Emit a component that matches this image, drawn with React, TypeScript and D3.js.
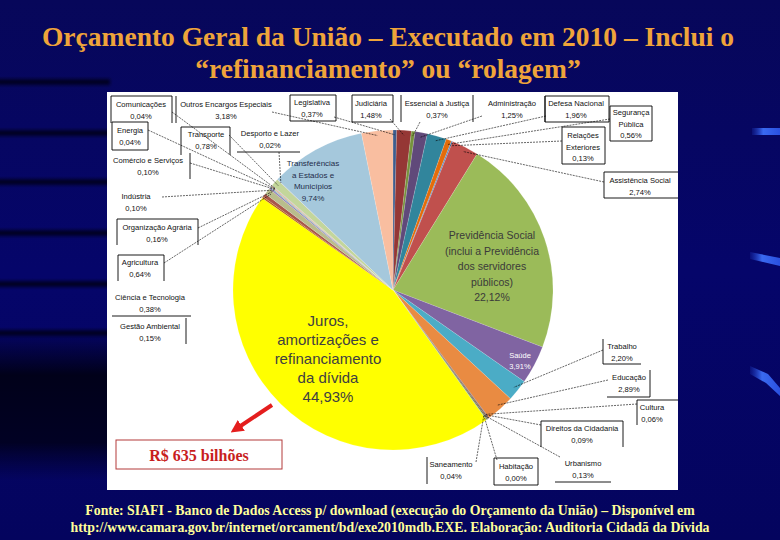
import * as d3 from 'd3';

// slice order as drawn, clockwise from 12 o'clock
const names = [
  'Legislativa', 'Judiciária', 'Essencial à Justiça', 'Administração', 'Defesa Nacional',
  'Segurança Pública', 'Relações Exteriores', 'Assistência Social', 'Previdência Social',
  'Saúde', 'Trabalho', 'Educação', 'Cultura', 'Direitos da Cidadania', 'Urbanismo',
  'Habitação', 'Saneamento', 'Juros', 'Gestão Ambiental', 'Ciência e Tecnologia',
  'Agricultura', 'Organização Agrária', 'Indústria', 'Comércio e Serviços', 'Energia',
  'Comunicações', 'Transporte', 'Desporto e Lazer', 'Transferências', 'Outros Encargos Especiais',
];
const values = [
  0.37, 1.48, 0.37, 1.25, 1.96,
  0.56, 0.13, 2.74, 22.12,
  3.91, 2.2, 2.89, 0.06, 0.09, 0.13,
  0.0, 0.04, 44.93, 0.15, 0.38,
  0.64, 0.16, 0.1, 0.1, 0.04,
  0.04, 0.78, 0.02, 9.74, 3.18,
];

const titleLines = [
  'Orçamento Geral da União – Executado em 2010 – Inclui o',
  '“refinanciamento” ou “rolagem”',
];
const footerLines = [
  'Fonte: SIAFI - Banco de Dados Access p/ download (execução do Orçamento da União) – Disponível em',
  'http://www.camara.gov.br/internet/orcament/bd/exe2010mdb.EXE. Elaboração: Auditoria Cidadã da Dívida',
];
const totalLabel = 'R$ 635 bilhões';

const colors: Record<string, string> = {
  'Legislativa': '#3E5C8C', 'Judiciária': '#953735', 'Essencial à Justiça': '#76923C',
  'Administração': '#60497A', 'Defesa Nacional': '#31859C', 'Segurança Pública': '#E46C0A',
  'Relações Exteriores': '#4F81BD', 'Assistência Social': '#C0504D', 'Previdência Social': '#9BBB59',
  'Saúde': '#8064A2', 'Trabalho': '#4BACC6', 'Educação': '#E98B42', 'Cultura': '#2C4D75',
  'Direitos da Cidadania': '#772C2A', 'Urbanismo': '#5F7530', 'Habitação': '#4D3B62',
  'Saneamento': '#276A7C', 'Juros': '#FFFF00', 'Gestão Ambiental': '#B65708',
  'Ciência e Tecnologia': '#A9574A', 'Agricultura': '#B9BD8C', 'Organização Agrária': '#9983B5',
  'Indústria': '#6FBDD1', 'Comércio e Serviços': '#F9AB6B', 'Energia': '#7F9DC9',
  'Comunicações': '#D88F8D', 'Transporte': '#C3D69B', 'Desporto e Lazer': '#B3A2C7',
  'Transferências': '#A5C8DC', 'Outros Encargos Especiais': '#F9BEA0',
};

type Box = { lines?: string[]; x: number; y: number; box?: [number, number, number, number]; sides?: string; anchor?: [number, number] };

// callout label layout
const callouts: Record<string, Box> = {
  'Comunicações': { x: 141, y: 107, box: [111, 96, 172, 123], sides: 'ltr', anchor: [172, 112] },
  'Outros Encargos Especiais': { x: 226, y: 107, box: [176, 96, 276, 123], sides: 'l', anchor: [272, 112] },
  'Legislativa': { x: 312, y: 105, box: [290, 95, 336, 121], sides: 'ltrb', anchor: [334, 117] },
  'Judiciária': { x: 371, y: 106, box: [352, 95, 393, 122], sides: 'ltrb', anchor: [390, 119] },
  'Essencial à Justiça': { x: 437, y: 106, box: [401, 95, 473, 122], sides: 'lr', anchor: [420, 122] },
  'Administração': { x: 512, y: 106, box: [478, 96, 545, 122], sides: 'r', anchor: [482, 116] },
  'Defesa Nacional': { x: 576, y: 106, box: [545, 96, 609, 122], sides: 'ltrb', anchor: [546, 116] },
  'Segurança Pública': { lines: ['Segurança', 'Pública'], x: 631, y: 115, box: [610, 106, 652, 141], sides: 'ltrb', anchor: [610, 119] },
  'Relações Exteriores': { lines: ['Relações', 'Exteriores'], x: 583, y: 138, box: [562, 127, 605, 164], sides: 'ltrb', anchor: [562, 141] },
  'Assistência Social': { x: 640, y: 183, box: [604, 172, 678, 198], sides: 'ltb', anchor: [604, 182] },
  'Trabalho': { x: 622, y: 349, box: [603, 339, 641, 364], sides: 'lb', anchor: [603, 350] },
  'Educação': { x: 629, y: 380, box: [607, 370, 650, 397], sides: 'rb', anchor: [608, 380] },
  'Cultura': { x: 652, y: 410, box: [637, 400, 678, 425], sides: 'lt', anchor: [637, 404] },
  'Direitos da Cidadania': { x: 582, y: 431, box: [541, 421, 623, 447], sides: 'ltr', anchor: [541, 425] },
  'Urbanismo': { x: 583, y: 466, box: [555, 455, 611, 482], sides: 'b', anchor: [560, 457] },
  'Habitação': { x: 516, y: 469, box: [494, 458, 538, 485], sides: 'ltrb', anchor: [497, 460] },
  'Saneamento': { x: 451, y: 467, box: [427, 457, 476, 484], sides: 'l', anchor: [476, 462] },
  'Energia': { x: 130, y: 133, box: [112, 122, 148, 150], sides: 'ltrb', anchor: [148, 130] },
  'Transporte': { x: 206, y: 137, box: [181, 127, 230, 155], sides: 'ltr', anchor: [229, 135] },
  'Desporto e Lazer': { x: 270, y: 136, box: [237, 126, 300, 152], sides: 'b', anchor: [279, 152] },
  'Comércio e Serviços': { x: 148, y: 163, box: [110, 153, 190, 179], sides: 'r', anchor: [190, 163] },
  'Indústria': { x: 136, y: 199, anchor: [162, 197] },
  'Organização Agrária': { x: 157, y: 230, box: [117, 219, 198, 245], sides: 'ltr', anchor: [198, 228] },
  'Agricultura': { x: 140, y: 265, box: [118, 255, 164, 281], sides: 'ltr', anchor: [164, 263] },
  'Ciência e Tecnologia': { x: 150, y: 300, box: [112, 289, 191, 316], sides: 'b' },
  'Gestão Ambiental': { x: 150, y: 329, box: [112, 318, 186, 344], sides: 'r' },
};

// labels drawn inside slices
const inner: Record<string, { lines: string[]; x: number; y: number; dy: number; size: number; fill: string }> = {
  'Transferências': { lines: ['Transferências', 'a Estados e', 'Municípios'], x: 313, y: 166, dy: 11.5, size: 8, fill: '#1F2D4A' },
  'Previdência Social': { lines: ['Previdência Social', '(inclui a Previdência', 'dos servidores', 'públicos)'], x: 492, y: 239, dy: 15.5, size: 10.5, fill: '#3A3A3A' },
  'Saúde': { lines: ['Saúde'], x: 520, y: 358, dy: 11, size: 7.5, fill: '#FFFFFF' },
  'Juros': { lines: ['Juros,', 'amortizações e', 'refinanciamento', 'da dívida'], x: 328, y: 326, dy: 19, size: 15, fill: '#404040' },
};

const W = 780;
const H = 540;
const cx = 393;
const cy = 290;
const R = 160;
const pct = (v: number) => d3.format('.2f')(v).replace('.', ',') + '%';
const labelFont = '"Liberation Sans Narrow", "Liberation Sans", sans-serif';
const serif = '"Liberation Serif", "Times New Roman", serif';

const App = () => {
  const pie = d3.pie<number>().sort(null).value(d => d).startAngle(0).endAngle(2 * Math.PI);
  const arcs = pie(values);
  const arc = d3.arc<d3.PieArcDatum<number>>().innerRadius(0).outerRadius(R);
  const edge = d3.arc<d3.PieArcDatum<number>>().innerRadius(R * 0.97).outerRadius(R * 0.97);

  const boxLines = (b: [number, number, number, number], sides: string) => {
    const [x0, y0, x1, y1] = b;
    const segs: [number, number, number, number][] = [];
    if (sides.includes('l')) segs.push([x0, y0, x0, y1]);
    if (sides.includes('t')) segs.push([x0, y0, x1, y0]);
    if (sides.includes('r')) segs.push([x1, y0, x1, y1]);
    if (sides.includes('b')) segs.push([x0, y1, x1, y1]);
    return segs;
  };

  const stripesY = [82, 133, 182, 233, 284, 333];

  return (
    <svg width={W} height={H} style={{ position: 'absolute', left: 0, top: 0 }}>
      <defs>
        <linearGradient id="bg" x1="0" y1="0" x2="0" y2="1">
          <stop offset="0" stopColor="#07075A" />
          <stop offset="0.5" stopColor="#05056A" />
          <stop offset="1" stopColor="#04045E" />
        </linearGradient>
        <linearGradient id="dark" x1="0" y1="0" x2="0" y2="1">
          <stop offset="0" stopColor="#000010" stopOpacity="0" />
          <stop offset="0.3" stopColor="#00000C" stopOpacity="0.85" />
          <stop offset="0.75" stopColor="#000014" stopOpacity="0.8" />
          <stop offset="1" stopColor="#000020" stopOpacity="0" />
        </linearGradient>
        <linearGradient id="stroke" x1="0" y1="0" x2="1" y2="0">
          <stop offset="0" stopColor="#1E3CC8" stopOpacity="0.2" />
          <stop offset="0.4" stopColor="#3A6AF0" />
          <stop offset="1" stopColor="#2A50E0" />
        </linearGradient>
        <filter id="blur" x="-10%" y="-100%" width="120%" height="300%">
          <feGaussianBlur stdDeviation="1.5" />
        </filter>
        <marker id="arrow" viewBox="0 0 10 10" refX="5" refY="5" markerWidth="3.2" markerHeight="3.2" orient="auto">
          <path d="M0,0 L10,5 L0,10 z" fill="#E41E1E" />
        </marker>
      </defs>

      <rect width={W} height={H} fill="url(#bg)" />
      <rect x={0} y={330} width={110} height={150} fill="url(#dark)" />
      <g filter="url(#blur)">
        {stripesY.map(y => (
          <rect key={y} x={-5} y={y - 3} width={115} height={6} fill="#00001E" opacity={0.9} />
        ))}
      </g>
      <rect x={752} y={128} width={28} height={7} fill="url(#stroke)" />
      <path d="M750,252 L780,258 L780,266 L750,259 Z" fill="url(#stroke)" />
      <path d="M750,366 L768,374 L780,388 L780,396 L766,383 L750,374 Z" fill="url(#stroke)" />

      {titleLines.map((t, i) => (
        <text key={t} x={388} y={46 + i * 32} textAnchor="middle" fill="#EFA43A" fontWeight="bold"
          fontFamily={serif} fontSize={27.5}>
          {t}
        </text>
      ))}

      <rect x={107} y={92} width={571} height={398} fill="#FFFFFF" />

      <g transform={`translate(${cx},${cy})`}>
        {arcs.map((a, i) => (
          <path key={names[i]} d={arc(a) ?? ''} fill={colors[names[i]]} stroke="#FFFFFF" strokeOpacity={0.35} strokeWidth={0.4} />
        ))}
      </g>

      {/* leader lines */}
      {arcs.map((a, i) => {
        const c = callouts[names[i]];
        if (!c || !c.anchor) return null;
        const [ex, ey] = edge.centroid(a);
        return (
          <line key={'l' + names[i]} x1={c.anchor[0]} y1={c.anchor[1]} x2={cx + ex} y2={cy + ey}
            stroke="#000" strokeWidth={0.6} strokeDasharray="2,1" />
        );
      })}

      {/* callout boxes */}
      <g fontFamily={labelFont} fontSize={7.6} fill="#111" textAnchor="middle">
        {names.map((n, i) => {
          const c = callouts[n];
          if (!c) return null;
          const lines = [...(c.lines ?? [n]), pct(values[i])];
          return (
            <g key={'c' + n}>
              {c.box && boxLines(c.box, c.sides ?? 'ltrb').map((s, k) => (
                <line key={k} x1={s[0]} y1={s[1]} x2={s[2]} y2={s[3]} stroke="#000" strokeWidth={0.9} />
              ))}
              {lines.map((t, k) => (
                <text key={k} x={c.x} y={c.y + k * 11.5}>{t}</text>
              ))}
            </g>
          );
        })}
      </g>

      {/* labels inside slices */}
      {names.map((n, i) => {
        const c = inner[n];
        if (!c) return null;
        const lines = [...c.lines, pct(values[i])];
        return (
          <g key={'in' + n} fontFamily='"Liberation Sans", sans-serif' fontSize={c.size} fill={c.fill} textAnchor="middle">
            {lines.map((t, k) => (
              <text key={k} x={c.x} y={c.y + k * c.dy}>{t}</text>
            ))}
          </g>
        );
      })}

      <line x1={272} y1={405} x2={236} y2={429} stroke="#E41E1E" strokeWidth={4} markerEnd="url(#arrow)" />
      <rect x={116} y={440} width={166} height={29} fill="#FFFFFF" stroke="#B33A3A" strokeWidth={1} />
      <text x={199} y={461} textAnchor="middle" fill="#C81E1E" fontWeight="bold"
        fontFamily={serif} fontSize={16}>
        {totalLabel}
      </text>

      {footerLines.map((t, i) => (
        <text key={t} x={390} y={515 + i * 17} textAnchor="middle" fill="#FFFF99" fontWeight="bold"
          fontFamily={serif} fontSize={13.8}>
          {t}
        </text>
      ))}
    </svg>
  );
};

export default App;
